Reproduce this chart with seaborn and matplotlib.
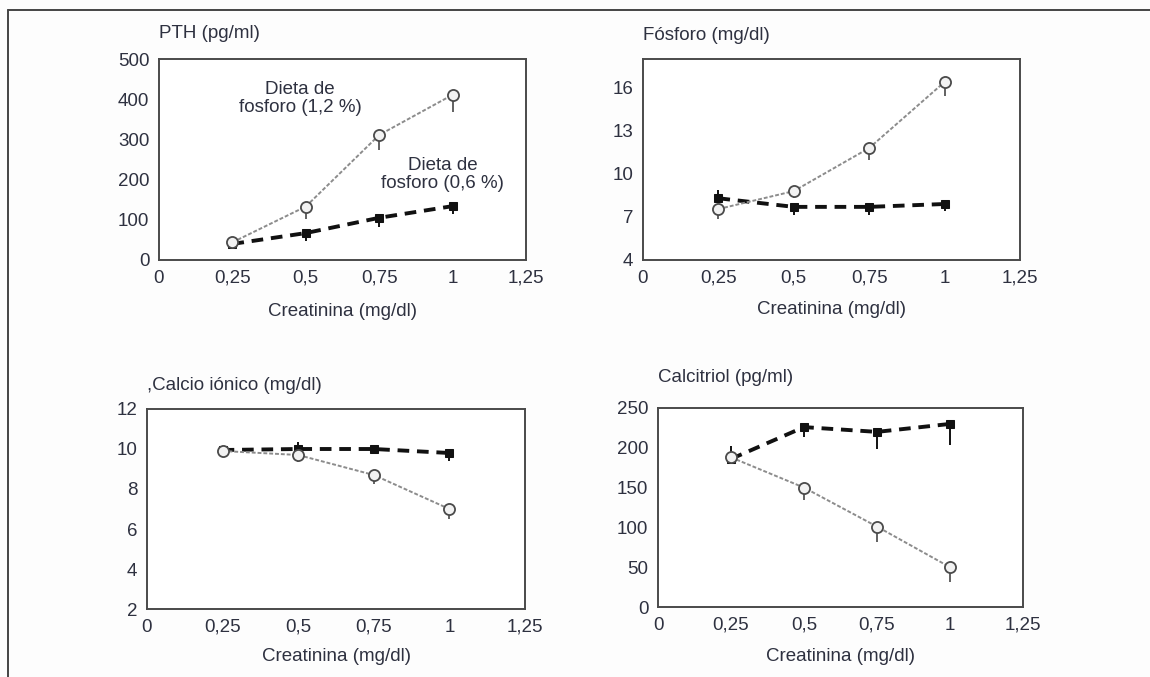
import matplotlib
matplotlib.use("Agg")
import matplotlib.pyplot as plt
from matplotlib.lines import Line2D
import seaborn as sns

# creatinina (mg/dl) on the x axis, same for every panel
creat = [0.25, 0.5, 0.75, 1.0]
x_ticks = [0, 0.25, 0.5, 0.75, 1.0, 1.25]
x_labels = ["0", "0,25", "0,5", "0,75", "1", "1,25"]

# PTH (pg/ml)
pth_high = [44, 133, 311, 411]
pth_high_lo = [0, 30, 38, 42]
pth_low = [40, 67, 105, 134]
pth_low_lo = [0, 20, 23, 19]
pth_low_hi = [0, 0, 0, 0]

# Fosforo (mg/dl)
fos_high = [7.55, 8.8, 11.8, 16.4]
fos_high_lo = [0.7, 0.5, 0.8, 1.0]
fos_low = [8.3, 7.7, 7.7, 7.9]
fos_low_lo = [0, 0.55, 0.55, 0.5]
fos_low_hi = [0.6, 0, 0, 0]

# Calcio ionico (mg/dl)
ca_high = [9.9, 9.7, 8.7, 7.0]
ca_high_lo = [0, 0.37, 0.45, 0.5]
ca_low = [9.95, 10.0, 10.0, 9.8]
ca_low_lo = [0, 0, 0.25, 0.4]
ca_low_hi = [0, 0.33, 0, 0]

# Calcitriol (pg/ml)
cal_high = [188, 150, 101, 50]
cal_high_lo = [6, 16, 19, 18]
cal_low = [186, 226, 220, 230]
cal_low_lo = [0, 13, 22, 26]
cal_low_hi = [16, 0, 0, 0]

TXT = "#2e3140"
FS = 13.5


def seaborn_settings():
    sns.set_theme(style="white")
    plt.rcParams["font.family"] = ["Liberation Sans", "DejaVu Sans"]
    plt.rcParams["text.color"] = TXT
    plt.rcParams["axes.labelcolor"] = TXT
    plt.rcParams["xtick.color"] = TXT
    plt.rcParams["ytick.color"] = TXT


def draw_panel(ax, high, high_lo, low, low_lo, low_hi, ylim, yticks,
               title, tpad, lpad):
    '''
    Two series: diet 1,2 % (open circles, grey dotted) and
    diet 0,6 % (black squares, dashed), with one-sided error bars.
    '''
    ax.errorbar(creat, low, yerr=[low_lo, low_hi], fmt="none",
                ecolor="#111111", elinewidth=1.4, capsize=0, zorder=2)
    ax.errorbar(creat, high, yerr=[high_lo, [0] * 4], fmt="none",
                ecolor="#555555", elinewidth=1.3, capsize=0, zorder=2)
    sns.lineplot(x=creat, y=low, ax=ax, color="#111111", lw=2.8,
                 linestyle=(0, (3, 2)), marker="s", markersize=6,
                 markeredgecolor="#111111", markerfacecolor="#111111",
                 zorder=3)
    sns.lineplot(x=creat, y=high, ax=ax, color="#8c8c8c", lw=1.4,
                 linestyle=(0, (2, 1)), marker="o", markersize=8,
                 markerfacecolor="#f2f2f2", markeredgecolor="#4a4a4a",
                 markeredgewidth=1.3, zorder=4)
    ax.set_xlim(0, 1.25)
    ax.set_ylim(*ylim)
    ax.set_xticks(x_ticks)
    ax.set_xticklabels(x_labels, fontsize=FS)
    ax.set_yticks(yticks)
    ax.set_yticklabels([str(t) for t in yticks], fontsize=FS)
    ax.tick_params(direction="in", length=4, width=1, color="#555555",
                   pad=7)
    ax.tick_params(axis="x", pad=7)
    for sp in ax.spines.values():
        sp.set_color("#4a4a4a")
        sp.set_linewidth(1.4)
    ax.set_title(title, loc="left", fontsize=FS, pad=tpad, color=TXT)
    ax.set_xlabel("Creatinina (mg/dl)", fontsize=FS, labelpad=lpad)
    ax.set_ylabel("")


seaborn_settings()
fig = plt.figure(figsize=(11.5, 6.77), dpi=100)
fig.patch.set_facecolor("#fdfdfd")

W, H = 1150, 677


def box(left, right, top, bottom):
    return [left / W, (H - bottom) / H, (right - left) / W, (bottom - top) / H]


ax1 = fig.add_axes(box(159, 526, 59, 260))
ax2 = fig.add_axes(box(643, 1020, 59, 260))
ax3 = fig.add_axes(box(147, 525, 409, 609))
ax4 = fig.add_axes(box(658, 1023, 408, 607))

draw_panel(ax1, pth_high, pth_high_lo, pth_low, pth_low_lo, pth_low_hi,
           (0, 500), [0, 100, 200, 300, 400, 500], "PTH (pg/ml)", 15, 12)
draw_panel(ax2, fos_high, fos_high_lo, fos_low, fos_low_lo, fos_low_hi,
           (4, 18), [4, 7, 10, 13, 16], "Fósforo (mg/dl)", 14, 10)
draw_panel(ax3, ca_high, ca_high_lo, ca_low, ca_low_lo, ca_low_hi,
           (2, 12), [2, 4, 6, 8, 10, 12], ",Calcio iónico (mg/dl)", 14, 9)
draw_panel(ax4, cal_high, cal_high_lo, cal_low, cal_low_lo, cal_low_hi,
           (0, 250), [0, 50, 100, 150, 200, 250], "Calcitriol (pg/ml)", 19, 10)

ax1.text(0.48, 402, "Dieta de\nfosforo (1,2 %)", ha="center", va="center",
         fontsize=FS, linespacing=1.1, color=TXT)
ax1.text(0.967, 212, "Dieta de\nfosforo (0,6 %)", ha="center", va="center",
         fontsize=FS, linespacing=1.1, color=TXT)

# page frame (top and left rule)
fig.add_artist(Line2D([8 / W, 1.0], [1 - 10 / H, 1 - 10 / H],
                      color="#444444", lw=1.4))
fig.add_artist(Line2D([8 / W, 8 / W], [0, 1 - 10 / H],
                      color="#444444", lw=1.4))

fig.savefig("out.png", dpi=100, facecolor=fig.get_facecolor())
